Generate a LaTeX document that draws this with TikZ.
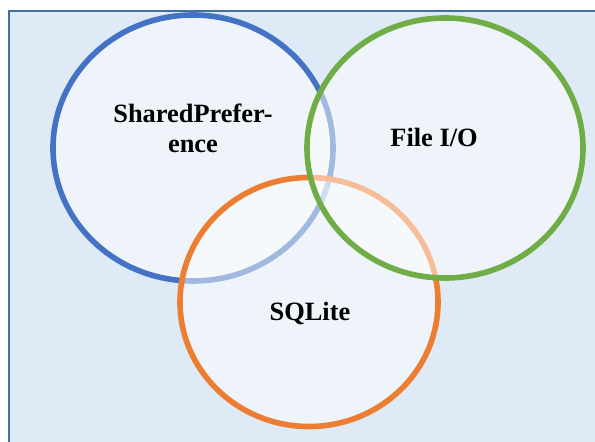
\documentclass[tikz,border=0pt]{standalone}
\usepackage{fontspec}
\setmainfont{Liberation Serif}
\usetikzlibrary{shapes.geometric}
\definecolor{bgfill}{HTML}{DEEAF6}
\definecolor{frameblue}{HTML}{41719C}
\definecolor{cblue}{HTML}{4472C4}
\definecolor{cgreen}{HTML}{70AD47}
\definecolor{corange}{HTML}{ED7D31}
\tikzset{
  ring/.style={ellipse, inner sep=0pt, line width=5.6pt, fill=white, fill opacity=0.5},
  lbl/.style={font=\fontsize{26.4}{30}\selectfont\bfseries, align=center, text=black}
}
\begin{document}
\begin{tikzpicture}[x=1pt,y=-1pt]
\useasboundingbox (0,0) rectangle (595,442);
\node[draw=frameblue, line width=2.6pt, fill=bgfill, minimum width=600pt, minimum height=440pt, inner sep=0pt, anchor=north west] (frame) at (7.5,9.8) {};
\node[ring, draw=cblue, minimum width=280pt, minimum height=266pt] (sp) at (193,148) {};
\node[ring, draw=corange, minimum width=258pt, minimum height=249pt] (sq) at (309,302) {};
\node[ring, draw=cgreen, minimum width=276pt, minimum height=260pt] (fio) at (445,148) {};
\node[lbl] (tsp) at (193,128) {SharedPrefer-\\ence};
\node[lbl] (tfio) at (434,137) {File I/O};
\node[lbl] (tsq) at (310,313) {SQLite};
\end{tikzpicture}
\end{document}
